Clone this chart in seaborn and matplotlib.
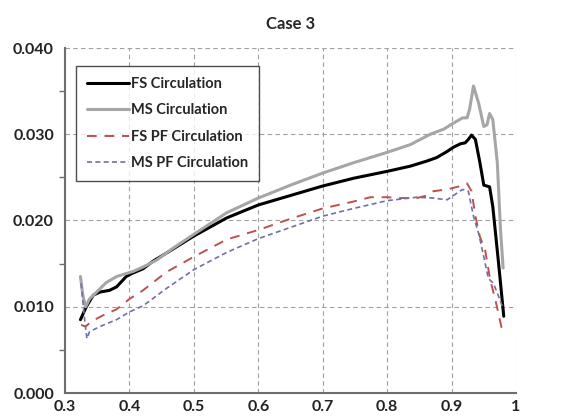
import matplotlib
matplotlib.use("Agg")
import matplotlib.pyplot as plt
import seaborn as sns
import numpy as np
from matplotlib.ticker import MultipleLocator, FuncFormatter

# ---- data ----
fs_x = [0.324, 0.333, 0.344, 0.354, 0.369, 0.380, 0.395, 0.402, 0.421, 0.437, 0.457, 0.500,
        0.551, 0.600, 0.650, 0.700, 0.748, 0.800, 0.836, 0.862, 0.877, 0.893, 0.903, 0.914,
        0.921, 0.926, 0.931, 0.937, 0.944, 0.950, 0.959, 0.964, 0.973, 0.981]
fs_y = [0.0085, 0.0100, 0.01135, 0.0117, 0.0119, 0.0123, 0.0135, 0.0138, 0.0144, 0.0153, 0.0162, 0.0182,
        0.0203, 0.0218, 0.0229, 0.0240, 0.0249, 0.0257, 0.0263, 0.0269, 0.0273, 0.0280, 0.0285, 0.0289,
        0.0290, 0.0294, 0.0299, 0.0294, 0.0267, 0.0241, 0.0239, 0.0216, 0.0150, 0.0089]

ms_x = [0.324, 0.328, 0.332, 0.338, 0.349, 0.364, 0.380, 0.406, 0.421, 0.442, 0.468, 0.500,
        0.551, 0.600, 0.650, 0.700, 0.748, 0.800, 0.836, 0.867, 0.888, 0.901, 0.917, 0.924,
        0.928, 0.934, 0.942, 0.950, 0.955, 0.959, 0.964, 0.971, 0.976, 0.980]
ms_y = [0.0135, 0.0112, 0.0100, 0.0109, 0.0117, 0.0128, 0.0135, 0.0141, 0.0146, 0.0154, 0.0168, 0.0184,
        0.0209, 0.0226, 0.0241, 0.0255, 0.0267, 0.0279, 0.0288, 0.0300, 0.0306, 0.0312, 0.0319, 0.0319,
        0.0329, 0.0356, 0.0336, 0.0309, 0.0311, 0.0324, 0.0317, 0.0267, 0.0189, 0.0145]

fspf_x = [0.325, 0.332, 0.341, 0.359, 0.380, 0.400, 0.421, 0.457, 0.500, 0.551, 0.600, 0.650,
          0.700, 0.748, 0.774, 0.800, 0.820, 0.846, 0.862, 0.872, 0.893, 0.914, 0.924, 0.931,
          0.937, 0.944, 0.952, 0.960, 0.968, 0.979]
fspf_y = [0.0079, 0.0077, 0.0083, 0.0090, 0.0097, 0.0109, 0.0119, 0.0140, 0.0158, 0.0178, 0.0189, 0.0202,
          0.0214, 0.0222, 0.0227, 0.0227, 0.0226, 0.0226, 0.0229, 0.0234, 0.0236, 0.0240, 0.0243, 0.0234,
          0.0205, 0.0181, 0.0166, 0.0131, 0.0108, 0.0071]

mspf_x = [0.325, 0.331, 0.334, 0.338, 0.354, 0.380, 0.400, 0.421, 0.457, 0.500, 0.551, 0.600,
          0.650, 0.700, 0.748, 0.800, 0.846, 0.872, 0.893, 0.903, 0.917, 0.926, 0.934, 0.942,
          0.950, 0.957, 0.965, 0.973, 0.979]
mspf_y = [0.0127, 0.0081, 0.0063, 0.0071, 0.0077, 0.0085, 0.0094, 0.0101, 0.0121, 0.0143, 0.0163, 0.0179,
          0.0192, 0.0205, 0.0214, 0.0223, 0.0227, 0.0226, 0.0224, 0.0229, 0.0236, 0.0234, 0.0205, 0.0185,
          0.0158, 0.0133, 0.0127, 0.0112, 0.0100]

labels = ["FS Circulation", "MS Circulation", "FS PF Circulation", "MS PF Circulation"]
x_ticks = [0.3, 0.4, 0.5, 0.6, 0.7, 0.8, 0.9, 1.0]
x_tick_labels = ["0.3", "0.4", "0.5", "0.6", "0.7", "0.8", "0.9", "1"]
y_ticks = [0.0, 0.01, 0.02, 0.03, 0.04]

# ---- plot ----
sns.set_style("white")
plt.rcParams['font.family'] = ['Lato', 'DejaVu Sans']

fig = plt.figure(figsize=(5.68, 4.19), dpi=100)
ax = fig.add_axes([65/568, 1 - 393/419, (516 - 65)/568, (393 - 48)/419])

sns.lineplot(x=fs_x, y=fs_y, ax=ax, color="black", linewidth=2.2, label=labels[0], sort=False)
sns.lineplot(x=ms_x, y=ms_y, ax=ax, color="#a6a6a6", linewidth=2.2, label=labels[1], sort=False)
sns.lineplot(x=fspf_x, y=fspf_y, ax=ax, color="#c0504d", linewidth=1.4, label=labels[2], sort=False,
             linestyle=(0, (5, 4)))
sns.lineplot(x=mspf_x, y=mspf_y, ax=ax, color="#7070a8", linewidth=1.2, label=labels[3], sort=False,
             linestyle=(0, (3, 2)))

ax.set_xlim(0.3, 1.0)
ax.set_ylim(0.0, 0.04)
ax.set_xticks(x_ticks)
ax.set_xticklabels(x_tick_labels)
ax.set_yticks(y_ticks)
ax.yaxis.set_major_formatter(FuncFormatter(lambda v, p: f"{v:.3f}"))
ax.yaxis.set_minor_locator(MultipleLocator(0.005))

ax.grid(True, which="major", color="#a0a0a0", linestyle=(0, (4, 3)), linewidth=0.8)
ax.set_axisbelow(True)

for s in ["top", "right"]:
    ax.spines[s].set_visible(False)
for s in ["left", "bottom"]:
    ax.spines[s].set_color("#6e6e6e")
    ax.spines[s].set_linewidth(1.5)

ax.tick_params(axis="x", which="major", direction="inout", length=6, width=1, color="#6e6e6e",
               labelsize=11.5, pad=2)
ax.tick_params(axis="y", which="major", direction="out", length=5, width=1, color="#6e6e6e",
               labelsize=11.5, pad=3)
ax.tick_params(axis="y", which="minor", direction="out", length=4, width=1, color="#6e6e6e", left=True)
for lab in ax.get_xticklabels() + ax.get_yticklabels():
    lab.set_fontweight("bold")
    lab.set_color("#222222")

ax.set_title("Case 3", fontsize=12, fontweight="bold", pad=14)
ax.set_xlabel("")
ax.set_ylabel("")

leg = ax.legend(loc="upper left", bbox_to_anchor=(0.024, 0.948), frameon=True, fancybox=False,
                handlelength=2.9, handletextpad=0.15, borderpad=0.75, labelspacing=0.85,
                borderaxespad=0.0,
                prop={"family": "Lato", "weight": "bold", "size": 10.5})
leg.get_frame().set_edgecolor("#222222")
leg.get_frame().set_linewidth(1.0)

fig.savefig("out.png", dpi=100, facecolor="white")
